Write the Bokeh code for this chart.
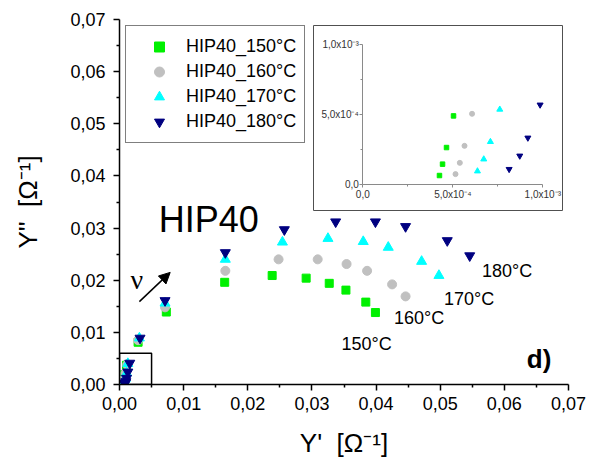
from bokeh.plotting import figure
from bokeh.models import (Range1d, LinearAxis, FixedTicker, CustomJSTickFormatter,
                          Legend, LegendItem, Label, Arrow, NormalHead)
from bokeh.embed import file_html
from bokeh.resources import INLINE

# ---------------- data ----------------
series_names = ["HIP40_150°C", "HIP40_160°C", "HIP40_170°C", "HIP40_180°C"]
curve_labels = ["150°C", "160°C", "170°C", "180°C"]

# low-Y' points (shown in the inset)
inset_x150 = [4.26e-4, 4.43e-4, 4.65e-4, 5.04e-4]
inset_y150 = [0.66e-4, 1.47e-4, 2.65e-4, 4.90e-4]
inset_x160 = [5.15e-4, 5.39e-4, 5.65e-4, 6.07e-4]
inset_y160 = [0.76e-4, 1.56e-4, 2.77e-4, 5.05e-4]
inset_x170 = [6.37e-4, 6.72e-4, 7.09e-4, 7.61e-4]
inset_y170 = [0.97e-4, 1.82e-4, 3.06e-4, 5.36e-4]
inset_x180 = [8.13e-4, 8.72e-4, 9.17e-4, 9.85e-4]
inset_y180 = [1.11e-4, 2.06e-4, 3.34e-4, 5.69e-4]

# remaining points
x150 = [0.00058, 0.0008, 0.0011, 0.0029, 0.0073, 0.0164, 0.0238, 0.0291, 0.0327, 0.0353, 0.0384, 0.0399]
y150 = [0.0009, 0.0019, 0.0037, 0.0081, 0.0139, 0.0196, 0.0209, 0.0204, 0.0194, 0.0181, 0.0158, 0.0138]
x160 = [0.0007, 0.0009, 0.0012, 0.0029, 0.0071, 0.0165, 0.0248, 0.0309, 0.0354, 0.0386, 0.0425, 0.0446]
y160 = [0.0010, 0.0021, 0.0038, 0.0085, 0.0148, 0.0218, 0.0240, 0.0240, 0.0231, 0.0218, 0.0192, 0.0169]
x170 = [0.0009, 0.0011, 0.0013, 0.0031, 0.0071, 0.0165, 0.0254, 0.0325, 0.0380, 0.0419, 0.0471, 0.0498]
y170 = [0.0011, 0.0022, 0.0040, 0.0089, 0.0156, 0.0240, 0.0273, 0.0280, 0.0274, 0.0263, 0.0236, 0.0209]
x180 = [0.0011, 0.0013, 0.0016, 0.0032, 0.0071, 0.0165, 0.0257, 0.0337, 0.0399, 0.0446, 0.0511, 0.0546]
y180 = [0.0012, 0.0024, 0.0041, 0.0089, 0.0161, 0.0253, 0.0297, 0.0312, 0.0312, 0.0303, 0.0276, 0.0247]

main_ticks = [0.00, 0.01, 0.02, 0.03, 0.04, 0.05, 0.06, 0.07]
main_minor = [0.005, 0.015, 0.025, 0.035, 0.045, 0.055, 0.065]
inset_ticks = [0.0, 5e-4, 1e-3]
inset_minor = [2.5e-4, 7.5e-4]

# curve-label anchors (data coords)
curve_label_x = [0.0346, 0.0428, 0.0506, 0.0565]
curve_label_y = [0.0078, 0.0128, 0.0164, 0.0217]

# ---------------- styles ----------------
FONT = "Liberation Sans"
NB = "\u00a0"
colors = ["#00F000", "#C0C0C0", "#00FFFF", "#000080"]
markers = ["square", "circle", "triangle", "inverted_triangle"]
main_sizes = [8, 9, 10, 10]
inset_sizes = [4.5, 5, 6, 6]

# pixel layout of the frame and the inset
W, H = 590, 469
FL, FR, FT, FB = 119, 568, 19, 384          # frame edges in px
INS_X0, INS_X1 = 362.3, 542.3                # inset x: 0 and 1e-3 (px)
INS_Y0, INS_Y1 = 184.3, 43.7                 # inset y: 0 and 1e-3 (px)
sx = 1e-3 / (INS_X1 - INS_X0)
sy = 1e-3 / (INS_Y0 - INS_Y1)
ix0, ix1 = (FL - INS_X0) * sx, (FR - INS_X0) * sx
iy0, iy1 = (INS_Y0 - FB) * sy, (INS_Y0 - FT) * sy
box_l, box_r = (313 - INS_X0) * sx, (562 - INS_X0) * sx
box_t, box_b = (INS_Y0 - 25) * sy, (INS_Y0 - 210) * sy

p = figure(width=W, height=H, x_range=Range1d(0, 0.07), y_range=Range1d(0, 0.07),
           output_backend="svg", toolbar_location=None,
           min_border_left=FL, min_border_right=W - FR,
           min_border_top=FT, min_border_bottom=H - FB)
p.grid.visible = False
p.outline_line_color = None
p.background_fill_color = "white"
p.border_fill_color = "white"

p.extra_x_ranges = {"ix": Range1d(ix0, ix1)}
p.extra_y_ranges = {"iy": Range1d(iy0, iy1)}

xa = p.xaxis[0]
ya = p.yaxis[0]
xa.axis_label = "Y'" + NB + NB + "[Ω⁻¹]"
ya.axis_label = "Y''" + NB + NB + "[Ω⁻¹]"
for ax in (xa, ya):
    ax.ticker = FixedTicker(ticks=main_ticks, minor_ticks=main_minor)
    ax.formatter = CustomJSTickFormatter(code="return tick.toFixed(2).replace('.', ',');")
    ax.axis_line_width = 1.5
    ax.axis_line_color = "black"
    ax.major_tick_line_width = 1.5
    ax.minor_tick_line_width = 1.5
    ax.major_tick_out = 6
    ax.major_tick_in = 0
    ax.minor_tick_out = 3
    ax.minor_tick_in = 0
    ax.major_label_text_font = FONT
    ax.major_label_text_font_size = "18px"
    ax.major_label_text_color = "black"
    ax.axis_label_text_font = FONT
    ax.axis_label_text_font_size = "26px"
    ax.axis_label_text_font_style = "normal"
    ax.axis_label_text_color = "black"
xa.major_label_standoff = 6
xa.axis_label_standoff = 15
ya.major_label_standoff = 8
ya.axis_label_standoff = 24

# inset frame
p.quad(left=[box_l], right=[box_r], top=[box_t], bottom=[box_b],
       x_range_name="ix", y_range_name="iy",
       fill_color="white", line_color="#505050", line_width=1)

# small box around origin on the main plot
p.quad(left=[0.0], right=[0.005], top=[0.006], bottom=[0.0],
       fill_color=None, line_color="black", line_width=1.5)

inset_xs = [inset_x150, inset_x160, inset_x170, inset_x180]
inset_ys = [inset_y150, inset_y160, inset_y170, inset_y180]
main_xs = [x150, x160, x170, x180]
main_ys = [y150, y160, y170, y180]

items = []
for i in range(4):
    r = p.scatter(inset_xs[i] + main_xs[i], inset_ys[i] + main_ys[i],
                  marker=markers[i], size=main_sizes[i],
                  fill_color=colors[i], line_color=colors[i])
    items.append(LegendItem(label=series_names[i], renderers=[r]))
    p.scatter(inset_xs[i], inset_ys[i], marker=markers[i], size=inset_sizes[i],
              fill_color=colors[i], line_color=colors[i],
              x_range_name="ix", y_range_name="iy")

inset_fmt = CustomJSTickFormatter(code="""
if (Math.abs(tick) < 1e-12) return "0,0";
const e = Math.floor(Math.log10(Math.abs(tick)) + 1e-9);
const m = tick / Math.pow(10, e);
const sup = {"-":"\u207b","0":"\u2070","1":"\u00b9","2":"\u00b2","3":"\u00b3","4":"\u2074","5":"\u2075","6":"\u2076","7":"\u2077","8":"\u2078","9":"\u2079"};
return m.toFixed(1).replace('.', ',') + "x10" + String(e).split('').map(c => sup[c]).join('');
""")

for side in ("below", "left"):
    ax = LinearAxis(x_range_name="ix", y_range_name="iy", fixed_location=0.0,
                    bounds=(0.0, 1e-3),
                    ticker=FixedTicker(ticks=inset_ticks, minor_ticks=inset_minor),
                    formatter=inset_fmt)
    ax.axis_line_color = "#8a8a8a"
    ax.axis_line_width = 1
    ax.major_tick_line_color = "#8a8a8a"
    ax.minor_tick_line_color = "#8a8a8a"
    ax.major_tick_out = 3
    ax.major_tick_in = 0
    ax.minor_tick_out = 2
    ax.minor_tick_in = 0
    ax.major_label_standoff = 1
    ax.major_label_text_font = FONT
    ax.major_label_text_font_size = "10px"
    ax.major_label_text_color = "#333333"
    p.add_layout(ax, side)

legend = Legend(items=items, location="top_left", margin=6,
                label_text_font=FONT, label_text_font_size="18px",
                label_text_color="black", label_height=25, glyph_height=25,
                glyph_width=50, label_standoff=2, spacing=0, padding=8,
                border_line_color="black", border_line_width=1,
                background_fill_alpha=1.0)
p.add_layout(legend)

for i in range(4):
    p.add_layout(Label(x=curve_label_x[i], y=curve_label_y[i], text=curve_labels[i],
                       text_font=FONT, text_font_size="18px", text_color="black",
                       text_baseline="alphabetic"))

p.add_layout(Label(x=0.0061, y=0.0316, text="HIP40", text_font=FONT,
                   text_font_size="36px", text_color="black", text_baseline="alphabetic"))
p.add_layout(Label(x=0.0635, y=0.0048, text="d)", text_font=FONT, text_font_style="bold",
                   text_font_size="26px", text_color="black", text_baseline="alphabetic"))
p.add_layout(Label(x=0.0017, y=0.0202, text="ν", text_font="Liberation Serif",
                   text_font_size="28px", text_color="black", text_baseline="alphabetic"))
p.add_layout(Arrow(end=NormalHead(size=11, fill_color="black", line_color="black"),
                   x_start=0.0031, y_start=0.0159, x_end=0.0079, y_end=0.0215,
                   line_width=1.5, line_color="black"))

open("out.html", "w").write(file_html(p, INLINE, title="HIP40 admittance"))
